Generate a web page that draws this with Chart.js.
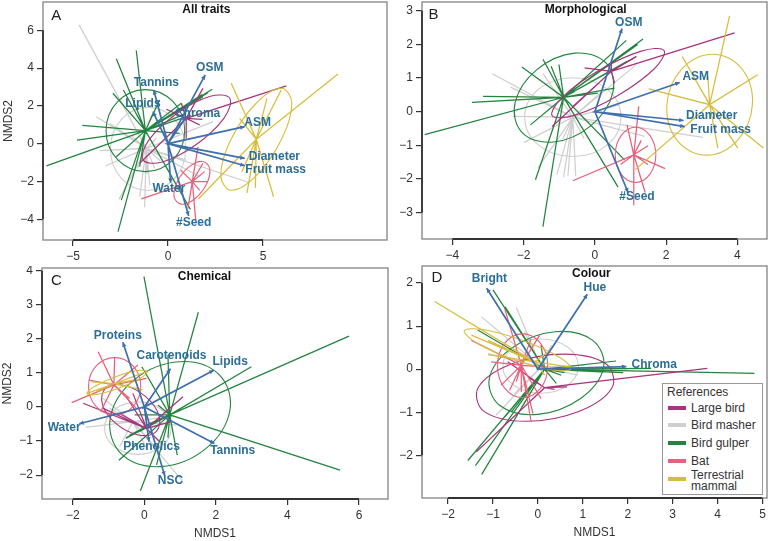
<!DOCTYPE html>
<html>
<head>
<meta charset="utf-8">
<title>NMDS trait panels</title>
<script src="https://cdn.jsdelivr.net/npm/chart.js@4/dist/chart.umd.min.js"></script>
<style>
  html,body{margin:0;padding:0;background:#fff;width:771px;height:541px;overflow:hidden;}
  canvas{position:absolute;}
  #refs{position:absolute;left:662px;top:383px;width:99px;height:110px;box-sizing:content-box;
    border:1.5px solid #999;background:#fff;font:12px "Liberation Sans",Arial,sans-serif;color:#333;}
  #refs div{position:absolute;left:28px;line-height:11px;white-space:nowrap;}
  #refs i{position:absolute;left:5px;width:18px;height:4px;}
</style>
</head>
<body>
<canvas id="chartA"></canvas>
<canvas id="chartB"></canvas>
<canvas id="chartC"></canvas>
<canvas id="chartD"></canvas>
<div id="refs"></div>
<script>
// ═══════════ DATA ═══════════
const groupNames=['Large bird','Bird masher','Bird gulper','Bat','Terrestrial mammal'];
const groupColours=['#a9337c','#cfcfcf','#23843f','#e8617c','#d8bd3c'];

// ── Panel A: all traits ──
const aXTicks=[-5,0,5];
const aYTicks=[-4,-2,0,2,4,6];
const aCentres=[[0.96,1.34],[-1.14,-0.25],[-1.19,0.69],[1.28,-2.01],[4.65,0.23]];
const aTipsLargeBird=[[6.23,3.06],[-1.49,-1.04],[1.84,2.93],[-0.09,1.82],[1.81,1.29],[0.96,0.28],[1.67,0.99],[0.7,2.14]];
const aTipsMasher=[[-4.68,6.29],[-3.77,1.43],[-3.6,-0.37],[-3.28,-1.17],[-2.58,-2.95],[-1.23,-3.37],[-1.49,-2.8],[4.3,-2.07],[2.37,1.17],[0.96,-0.87],[1.67,-1.74],[-3.07,1.08],[-0.96,-2.2],[-0.7,-1.3],[-1.6,-1.3],[-1.9,0.4],[-0.4,-0.9],[-0.6,0.3],[-1.1,-1.6]];
const aTipsGulper=[[-6.4,-1.18],[-4.79,0.19],[-4.51,0.97],[-2.72,4.5],[-1.67,4.93],[-2.9,2.67],[-2.35,2.84],[-2.63,-4.66],[-2.46,-2.99],[-1.49,-1.22],[1.18,-3.48],[2.33,2.88],[1.84,2.49],[0.96,1.6],[0.61,0.55],[-0.79,1.6],[-0.44,2.31],[0.7,2.14],[-2.72,-0.69],[1.8,2.6],[2.1,2.7],[1.2,1.5]];
const aTipsBat=[[-1.4,-2.92],[1.58,-0.16],[1.46,-4.05],[1.05,-3.43],[1.93,-1.48],[1.84,-1.04],[2.1,-2.01],[0.44,-2.28],[1.67,-2.47],[0.67,-1.4]];
const aTipsMammal=[[8.95,3.69],[3.33,3.2],[5.56,-2.81],[4.16,-2.6],[5.21,2.4],[5.96,2.84],[3.89,-1.48],[1.6,-2.93],[4.6,-2.33],[3.77,1.34]];
const aRingLargeBird=[[0.47,1.6],[2.23,2.51],[3.25,2.4],[2.94,1.34],[1.47,-0.06],[-0.29,-0.97],[-1.31,-0.86],[-1.0,0.2]];
const aRingMasher=[[-1.05,1.92],[0.35,1.28],[0.93,-0.28],[0.35,-1.84],[-1.05,-2.48],[-2.45,-1.84],[-3.03,-0.28],[-2.45,1.28]];
const aRingGulper=[[-1.19,2.86],[0.27,2.22],[0.88,0.69],[0.27,-0.84],[-1.19,-1.48],[-2.65,-0.84],[-3.26,0.69],[-2.65,2.22]];
const aRingBat=[[1.84,-0.94],[2.2,-1.34],[2.01,-2.17],[1.38,-2.94],[0.68,-3.2],[0.32,-2.8],[0.51,-1.97],[1.14,-1.2]];
const aRingMammal=[[5.97,2.93],[6.52,2.14],[5.98,0.23],[4.66,-1.68],[3.33,-2.47],[2.78,-1.68],[3.32,0.23],[4.64,2.14]];
const aVectorNames=['OSM','Tannins','Lipids','Chroma','ASM','Diameter','Fruit mass','Water','#Seed'];
const aVectors=[[1.96,3.64],[-0.75,2.84],[-0.79,1.7],[0.96,1.43],[4.04,0.9],[4.04,-0.78],[4.04,-1.17],[0.14,-2.07],[1.09,-3.83]];

// ── Panel B: morphological ──
const bXTicks=[-4,-2,0,2,4];
const bYTicks=[-3,-2,-1,0,1,2,3];
const bCentres=[[0.46,1.2],[-0.62,-0.16],[-0.88,0.43],[1.09,-1.28],[3.22,0.21]];
const bTipsLargeBird=[[3.92,2.34],[-1.2,-0.44],[1.16,1.64],[-0.29,1.3],[0.55,0.85],[0.46,1.45],[-0.62,0.16]];
const bTipsMasher=[[-2.88,1.13],[-2.3,-0.14],[-1.99,-0.91],[-1.6,-1.67],[-1.07,-1.87],[-0.88,-1.94],[-0.76,-1.9],[-0.54,-1.92],[3.03,-0.76],[1.39,-0.73],[1.16,1.4],[-1.46,1.13],[-2.37,0.73],[-0.3,-0.8],[0.2,0.6],[0.7,0.2],[-0.9,-0.8]];
const bTipsGulper=[[-4.78,-0.68],[-3.45,0.28],[-3.14,0.46],[-2.05,1.33],[-1.46,1.56],[-1.23,1.35],[-1.01,1.4],[-1.46,-3.41],[-1.67,-2.02],[-1.81,-0.39],[0.65,-2.24],[0.83,-1.43],[1.35,2.16],[0.88,2.12],[1.16,1.64],[0.55,0.7],[0.08,0.55],[0.55,1.54],[-0.57,0.6],[0.9,1.5],[1.1,1.6],[1.2,2.0]];
const bTipsBat=[[-0.62,-2.05],[1.23,0.16],[1.09,-2.78],[1.41,-2.4],[1.97,-1.69],[1.49,-1.01],[1.3,-0.85],[0.9,-0.39],[0.72,-1.57],[1.49,-1.57]];
const bTipsMammal=[[3.78,2.85],[2.45,1.64],[1.51,0.68],[4.57,1.1],[4.73,-1.08],[4.01,-1.08],[3.45,-1.08],[1.13,-1.72],[3.17,1.05]];
const bRingLargeBird=[[0.12,1.23],[1.3,1.8],[1.94,1.82],[1.66,1.27],[0.62,0.47],[-0.56,-0.1],[-1.2,-0.12],[-0.92,0.43]];
const bRingMasher=[[-0.62,1.01],[0.34,0.67],[0.73,-0.16],[0.34,-0.99],[-0.62,-1.33],[-1.58,-0.99],[-1.97,-0.16],[-1.58,0.67]];
const bRingGulper=[[-0.57,1.74],[0.31,1.45],[0.5,0.56],[-0.11,-0.41],[-1.17,-0.9],[-2.05,-0.61],[-2.24,0.28],[-1.63,1.25]];
const bRingBat=[[1.14,-0.46],[1.54,-0.7],[1.71,-1.28],[1.54,-1.86],[1.14,-2.1],[0.74,-1.86],[0.57,-1.28],[0.74,-0.7]];
const bRingMammal=[[3.31,1.71],[4.13,1.27],[4.42,0.21],[4.0,-0.85],[3.13,-1.29],[2.31,-0.85],[2.02,0.21],[2.44,1.27]];
const bVectorNames=['OSM','ASM','Diameter','Fruit mass','#Seed'];
const bVectors=[[0.76,2.47],[2.38,0.87],[2.49,-0.26],[2.52,-0.44],[0.93,-2.4]];

// ── Panel C: chemical ──
const cXTicks=[-2,0,2,4,6];
const cYTicks=[-2,-1,0,1,2,3,4];
const cCentres=[[0.06,-0.63],[-0.32,-0.43],[0.71,-0.23],[-0.85,0.65],[-0.83,0.69]];
const cTipsLargeBird=[[1.08,0.3],[-1.71,0.11],[-0.5,0.3],[-1.15,-0.04],[0.74,-0.43],[0.43,-1.02],[-0.32,0.4],[-0.69,-0.19]];
const cTipsMasher=[[-1.64,-0.6],[1.08,-2.19],[0.89,-0.53],[0.66,-0.28],[-0.97,-0.43],[-1.15,0.25],[0.06,-1.21],[-0.69,-1.16],[0.43,-1.31],[-0.97,-0.04]];
const cTipsGulper=[[-0.01,3.83],[1.51,2.78],[5.72,2.08],[2.99,1.18],[5.47,-1.85],[-0.11,-2.46],[-0.71,-1.56],[-0.52,-0.92],[0.92,-1.41],[0.66,-0.9],[-0.27,-0.23],[-0.07,1.18],[0.38,0.06],[0.66,1.53],[-0.41,-0.82],[0.34,-1.7],[-0.13,-0.72],[-0.5,-0.9],[-0.45,-0.88],[-0.38,-0.82],[-0.1,-0.6]];
const cTipsBat=[[-2.03,0.13],[-1.29,1.62],[-0.83,1.45],[-0.18,1.23],[-1.22,-0.14],[-0.22,-0.04],[0.06,0.84],[-0.41,0.25],[-1.55,0.79]];
const cTipsMammal=[[-1.6,0.4],[0.06,1.04],[-0.04,0.5],[-1.48,0.74],[-0.32,0.79],[-1.34,0.45]];
const cRingLargeBird=[[-0.59,0.64],[0.03,0.31],[0.41,-0.25],[0.33,-0.72],[-0.17,-0.82],[-0.79,-0.49],[-1.17,0.07],[-1.09,0.54]];
const cRingMasher=[[-0.18,0.15],[0.48,-0.08],[0.75,-0.62],[0.48,-1.16],[-0.18,-1.39],[-0.84,-1.16],[-1.11,-0.62],[-0.84,-0.08]];
const cRingGulper=[[0.99,1.33],[2.09,0.95],[2.39,-0.11],[1.71,-1.23],[0.45,-1.75],[-0.65,-1.37],[-0.95,-0.31],[-0.27,0.81]];
const cRingBat=[[-0.83,1.45],[-0.31,1.2],[-0.1,0.61],[-0.31,0.02],[-0.83,-0.23],[-1.35,0.02],[-1.56,0.61],[-1.35,1.2]];
const cRingMammal=[[-0.8,0.89],[-0.19,1.07],[0.08,1.04],[-0.14,0.83],[-0.72,0.55],[-1.33,0.37],[-1.6,0.4],[-1.38,0.61]];
const cVectorNames=['Proteins','Carotenoids','Lipids','Tannins','Water','Phenolics','NSC'];
const cVectors=[[-0.6,1.9],[0.73,1.12],[1.94,1.08],[1.96,-1.07],[-1.82,-0.49],[0.13,-1.02],[0.57,-2.02]];

// ── Panel D: colour ──
const dXTicks=[-2,-1,0,1,2,3,4,5];
const dYTicks=[-2,-1,0,1,2];
const dCentres=[[0.15,-0.43],[0.07,0.05],[0.15,0],[-0.37,0.09],[-0.07,0.17]];
const dTipsLargeBird=[[3.77,0.02],[-1.37,-1.92],[0.65,-0.41],[-0.67,0.17],[-0.22,-0.18],[0.37,-0.47]];
const dTipsMasher=[[-1.26,1.22],[-0.48,1.43],[-0.93,-1.07],[-0.52,-0.57],[1.48,0.02],[-1.11,0.36],[1.04,0.09],[0.3,0.56],[-0.3,0.87],[0.89,-0.14],[1.7,-0.06],[2.0,0.0]];
const dTipsGulper=[[-1.56,-2.12],[-1.39,-2.24],[-1.25,-2.44],[-1,1.84],[-0.73,1.45],[-1.34,0.91],[4.82,-0.1],[1.74,0.19],[0.41,-0.33],[0.52,-0.14],[0.07,0.56],[-0.15,0.48],[2.52,0.02],[-0.59,-0.99],[-0.74,-1.11],[0.59,-0.08],[0.96,0.02],[1.4,-0.06],[1.9,-0.08]];
const dTipsBat=[[-1.48,0.67],[-0.74,1.41],[-0.15,-1.22],[-0.11,-1.03],[0.04,0.79],[0.22,0.05],[-0.82,-0.37],[-0.63,-0.49],[-0.37,-0.53],[-1.04,0.17],[-0.48,-0.29],[0.07,-0.68],[-0.15,0.71]];
const dTipsMammal=[[-2.3,1.57],[-1.11,0.67],[0.22,0.4],[0.74,0.05],[-1.11,0.34],[0.15,-0.14],[-1.48,0.79]];
const dRingLargeBird=[[0.59,0.35],[1.52,0.12],[1.65,-0.43],[0.91,-0.98],[-0.27,-1.21],[-1.2,-0.98],[-1.33,-0.43],[-0.59,0.12]];
const dRingMasher=[[0.06,0.7],[0.65,0.52],[0.9,0.07],[0.65,-0.38],[0.06,-0.56],[-0.53,-0.38],[-0.78,0.07],[-0.53,0.52]];
const dRingGulper=[[0.38,0.87],[1.22,0.67],[1.46,0.03],[0.95,-0.68],[0,-1.05],[-0.84,-0.85],[-1.08,-0.21],[-0.57,0.5]];
const dRingBat=[[-0.34,0.82],[0.06,0.6],[0.22,0.08],[0.06,-0.44],[-0.34,-0.66],[-0.74,-0.44],[-0.9,0.08],[-0.74,0.6]];
const dRingMammal=[[-0.35,0.67],[0.46,0.29],[0.74,0.01],[0.32,-0.02],[-0.55,0.23],[-1.36,0.61],[-1.64,0.89],[-1.22,0.92]];
const dVectorNames=['Bright','Hue','Chroma'];
const dVectors=[[-1.14,1.88],[1.1,1.74],[1.97,0.06]];

// ═══════════ PANEL SETUP ═══════════
const panels=[
  {id:'chartA',letter:'A',title:'All traits',xLabel:false,yLabel:true,frame:[43,2,387,240],xr:[-6.58,11.53],yr:[-5.1,7.5],
   letterAt:[-5.88,6.78],titleAt:[2.02,7.08],xTicks:aXTicks,yTicks:aYTicks,centres:aCentres,
   tips:[aTipsLargeBird,aTipsMasher,aTipsGulper,aTipsBat,aTipsMammal],rings:[aRingLargeBird,aRingMasher,aRingGulper,aRingBat,aRingMammal],
   names:aVectorNames,vectors:aVectors,
   spots:[[2.2,4.0],[-0.61,3.22],[-1.32,2.1],[1.56,1.61],[4.72,1.13],[5.6,-0.71],[5.67,-1.38],[0.05,-2.39],[1.35,-4.19]]},
  {id:'chartB',letter:'B',title:'Morphological',xLabel:false,yLabel:false,frame:[422,2,767,239],xr:[-4.855,4.83],yr:[-3.78,3.26],
   letterAt:[-4.53,2.87],titleAt:[-0.26,3.03],xTicks:bXTicks,yTicks:bYTicks,centres:bCentres,
   tips:[bTipsLargeBird,bTipsMasher,bTipsGulper,bTipsBat,bTipsMammal],rings:[bRingLargeBird,bRingMasher,bRingGulper,bRingBat,bRingMammal],
   names:bVectorNames,vectors:bVectors,
   spots:[[0.95,2.65],[2.83,1.05],[3.28,-0.12],[3.53,-0.54],[1.18,-2.51]]},
  {id:'chartC',letter:'C',title:'Chemical',xLabel:true,yLabel:true,frame:[42,268,388,499],xr:[-2.86,6.81],yr:[-2.7,4.08],
   letterAt:[-2.46,3.71],titleAt:[1.68,3.82],xTicks:cXTicks,yTicks:cYTicks,centres:cCentres,
   tips:[cTipsLargeBird,cTipsMasher,cTipsGulper,cTipsBat,cTipsMammal],rings:[cRingLargeBird,cRingMasher,cRingGulper,cRingBat,cRingMammal],
   names:cVectorNames,vectors:cVectors,
   spots:[[-0.74,2.09],[0.76,1.51],[2.4,1.33],[2.47,-1.29],[-2.24,-0.61],[0.2,-1.16],[0.73,-2.17]]},
  {id:'chartD',letter:'D',title:'Colour',xLabel:true,yLabel:false,frame:[422,266,767,498],xr:[-2.58,5.1],yr:[-2.99,2.395],
   letterAt:[-2.25,2.11],titleAt:[1.19,2.22],xTicks:dXTicks,yTicks:dYTicks,centres:dCentres,
   tips:[dTipsLargeBird,dTipsMasher,dTipsGulper,dTipsBat,dTipsMammal],rings:[dRingLargeBird,dRingMasher,dRingGulper,dRingBat,dRingMammal],
   names:dVectorNames,vectors:dVectors,
   spots:[[-1.08,2.09],[1.27,1.89],[2.59,0.11]]}
];

const FONT='"Liberation Sans",Arial,sans-serif';
const ARROW='#3f70ad';
const LABEL='#2b6f98';
const pt=p=>({x:p[0],y:p[1]});

// spider: centre -> tip -> centre -> tip ...
function spider(centre,tips){
  const out=[];
  tips.forEach(t=>{out.push(pt(centre),pt(t));});
  return out;
}
// wrap the ring by one point each side so the spline has proper tangents at the seam
function closed(ring){
  const all=[ring[ring.length-1],...ring,ring[0],ring[1]];
  return all.map(pt);
}
// the two wrap segments only exist for the tangents, don't draw them
const hideWrap={borderColor:c=>(c.p0DataIndex===0||c.p1DataIndex===c.chart.data.datasets[c.datasetIndex].data.length-1)?'rgba(0,0,0,0)':undefined};

// frame, R-style axis bars, arrow heads and the text on the plot
const panelDecor={
  id:'panelDecor',
  afterDatasetsDraw(chart,args,opts){
    const p=opts.panel,{ctx,chartArea:ca,scales:{x,y}}=chart;
    ctx.save();
    ctx.strokeStyle='#8c8c8c';ctx.lineWidth=1.4;
    ctx.strokeRect(ca.left,ca.top,ca.right-ca.left,ca.bottom-ca.top);
    ctx.strokeStyle='#333';ctx.lineWidth=1.8;
    ctx.beginPath();
    ctx.moveTo(x.getPixelForValue(p.xTicks[0]),ca.bottom);
    ctx.lineTo(x.getPixelForValue(p.xTicks[p.xTicks.length-1]),ca.bottom);
    ctx.moveTo(ca.left,y.getPixelForValue(p.yTicks[0]));
    ctx.lineTo(ca.left,y.getPixelForValue(p.yTicks[p.yTicks.length-1]));
    ctx.stroke();
    // arrow heads
    ctx.fillStyle=ARROW;
    p.vectors.forEach(v=>{
      const px=x.getPixelForValue(v[0]),py=y.getPixelForValue(v[1]);
      const a=Math.atan2(py-y.getPixelForValue(0),px-x.getPixelForValue(0));
      ctx.beginPath();
      ctx.moveTo(px,py);
      ctx.lineTo(px-5*Math.cos(a-0.45),py-5*Math.sin(a-0.45));
      ctx.lineTo(px-5*Math.cos(a+0.45),py-5*Math.sin(a+0.45));
      ctx.closePath();ctx.fill();
    });
    ctx.textAlign='center';ctx.textBaseline='middle';
    ctx.font='bold 12px '+FONT;ctx.fillStyle=LABEL;
    p.names.forEach((n,i)=>ctx.fillText(n,x.getPixelForValue(p.spots[i][0]),y.getPixelForValue(p.spots[i][1])));
    ctx.font='bold 12px '+FONT;ctx.fillStyle='#111';
    ctx.fillText(p.title,x.getPixelForValue(p.titleAt[0]),y.getPixelForValue(p.titleAt[1]));
    ctx.font='15px '+FONT;ctx.fillStyle='#222';
    ctx.fillText(p.letter,x.getPixelForValue(p.letterAt[0]),y.getPixelForValue(p.letterAt[1]));
    ctx.restore();
  }
};

// no extra room for tick labels that stick out past the frame
function noPad(s){s.paddingTop=0;s.paddingBottom=0;s.paddingLeft=0;s.paddingRight=0;}

function tickScale(range,ticks,extra){
  return Object.assign({
    type:'linear',min:range[0],max:range[1],
    afterBuildTicks:s=>{s.ticks=ticks.map(v=>({value:v}));},
    grid:{drawOnChartArea:false,drawTicks:true,tickLength:6,color:'#333',lineWidth:1.2},
    border:{display:false},
    ticks:{color:'#333',font:{size:12,family:FONT},padding:3,maxRotation:0,autoSkip:false,
      callback:v=>String(v).replace('-','\u2212')}
  },extra);
}

panels.forEach(p=>{
  const [fl,ft,fr,fb]=p.frame;
  const yW=44,xH=p.xLabel?42:27,padT=2,padR=2;
  const el=document.getElementById(p.id);
  const w=fr-fl+yW+padR,h=fb-ft+xH+padT;
  el.style.left=(fl-yW)+'px';el.style.top=(ft-padT)+'px';
  el.style.width=w+'px';el.style.height=h+'px';
  el.width=w;el.height=h;

  const datasets=[];
  // vectors on top (first dataset draws last)
  const vec=[];
  p.vectors.forEach(v=>{vec.push({x:0,y:0},pt(v));});
  datasets.push({label:'vectors',data:vec,borderColor:ARROW,borderWidth:1.7,showLine:true,pointRadius:0,tension:0});
  // gulper over the others, masher lowest
  [4,3,0,2,1].forEach(g=>{
    datasets.push({label:groupNames[g],data:spider(p.centres[g],p.tips[g]),borderColor:groupColours[g],
      borderWidth:1.25,showLine:true,pointRadius:0,tension:0});
    datasets.push({label:groupNames[g]+' ellipse',data:closed(p.rings[g]),borderColor:groupColours[g],
      borderWidth:1.1,showLine:true,pointRadius:0,tension:0.38,segment:hideWrap});
  });

  new Chart(el,{
    type:'scatter',
    data:{datasets},
    plugins:[panelDecor],
    options:{
      responsive:false,animation:false,
      layout:{padding:{top:padT,right:padR,left:0,bottom:0}},
      plugins:{legend:{display:false},tooltip:{enabled:false},title:{display:false},panelDecor:{panel:p}},
      scales:{
        x:tickScale(p.xr,p.xTicks,{afterFit:s=>{s.height=xH;noPad(s);},
          title:{display:p.xLabel,text:'NMDS1',color:'#333',font:{size:12,family:FONT},padding:{top:5,bottom:0}}}),
        y:tickScale(p.yr,p.yTicks,{afterFit:s=>{s.width=yW;noPad(s);},
          title:{display:p.yLabel,text:'NMDS2',color:'#333',font:{size:12,family:FONT},padding:{top:2,bottom:0}}})
      }
    }
  });
});

// ═══════════ LEGEND ═══════════
const refs=document.getElementById('refs');
const rowY=[22,39,57,75,92];
let h='<div style="left:4px;top:3px">References</div>';
groupNames.forEach((n,i)=>{
  const label=n==='Terrestrial mammal'?'Terrestrial<br>mammal':n;
  h+=`<i style="top:${rowY[i]+(i===4?1:0)}px;background:${groupColours[i]}"></i>`;
  h+=`<div style="top:${rowY[i]-3-(i===4?3:0)}px">${label}</div>`;
});
refs.innerHTML=h;
</script>
</body>
</html>
